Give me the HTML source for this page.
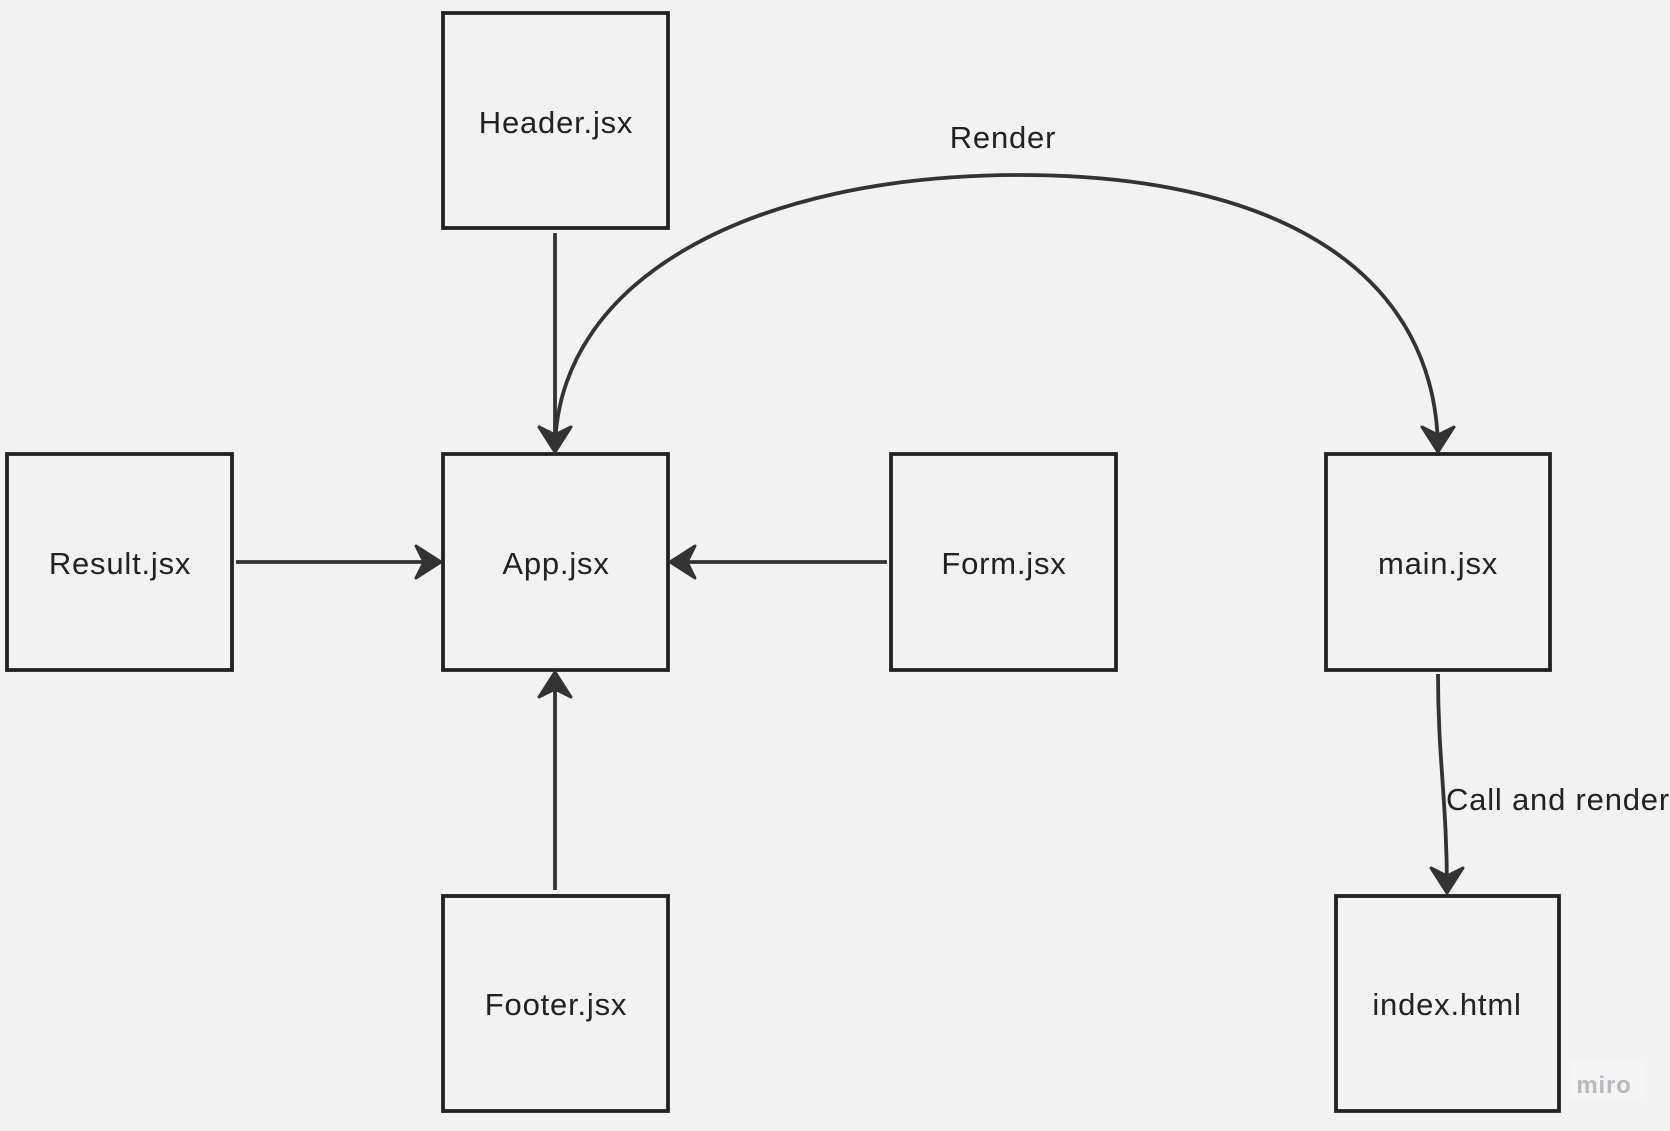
<!DOCTYPE html>
<html><head><meta charset="utf-8"><style>
html,body{margin:0;padding:0;background:#f2f2f2;}
svg{display:block;}
text{font-family:"Liberation Sans",sans-serif;fill:#222;letter-spacing:0.8px;}
</style></head><body>
<svg width="1670" height="1131" viewBox="0 0 1670 1131" xmlns="http://www.w3.org/2000/svg">
<defs>
<marker id="a" markerUnits="userSpaceOnUse" markerWidth="44" markerHeight="44" refX="30" refY="20" orient="auto">
<path d="M30,20 L5,4 L13,20 L5,36 Z" fill="#333" stroke="#333" stroke-width="3" stroke-linejoin="round"/>
</marker>
</defs>
<rect width="1670" height="1131" fill="#f2f2f2"/>
<g fill="none" stroke="#222" stroke-width="3.8">
<rect x="443" y="13" width="225" height="215"/>
<rect x="443" y="454" width="225" height="216"/>
<rect x="7" y="454" width="225" height="216"/>
<rect x="891" y="454" width="225" height="216"/>
<rect x="1326" y="454" width="224" height="216"/>
<rect x="443" y="896" width="225" height="215"/>
<rect x="1336" y="896" width="223" height="215"/>
</g>
<g fill="none" stroke="#333" stroke-width="3.8">
<path d="M555,233 L555,452" marker-end="url(#a)"/>
<path d="M236,562 L441,562" marker-end="url(#a)"/>
<path d="M887,562 L670,562" marker-end="url(#a)"/>
<path d="M555,890 L555,672" marker-end="url(#a)"/>
<path d="M1020,175 C750,175 555,280 555,452" marker-end="url(#a)"/>
<path d="M1020,175 C1290,175 1438,280 1438,452" marker-end="url(#a)"/>
<path d="M1438,674 C1438,760 1447,800 1447,893" marker-end="url(#a)"/>
</g>
<g font-size="31" text-anchor="middle">
<text x="556" y="133">Header.jsx</text>
<text x="556" y="574">App.jsx</text>
<text x="120" y="574">Result.jsx</text>
<text x="1004" y="574">Form.jsx</text>
<text x="1438" y="574">main.jsx</text>
<text x="556" y="1015">Footer.jsx</text>
<text x="1447" y="1015">index.html</text>
<text x="1003" y="148">Render</text>
</g>
<text x="1446" y="810" font-size="31">Call and render</text>
<rect x="1570" y="1060" width="75" height="40" fill="#f4f4f4"/>
<text x="1604" y="1093" font-size="24" text-anchor="middle" style="fill:#b8b8c0;font-weight:bold">miro</text>
</svg>
</body></html>
